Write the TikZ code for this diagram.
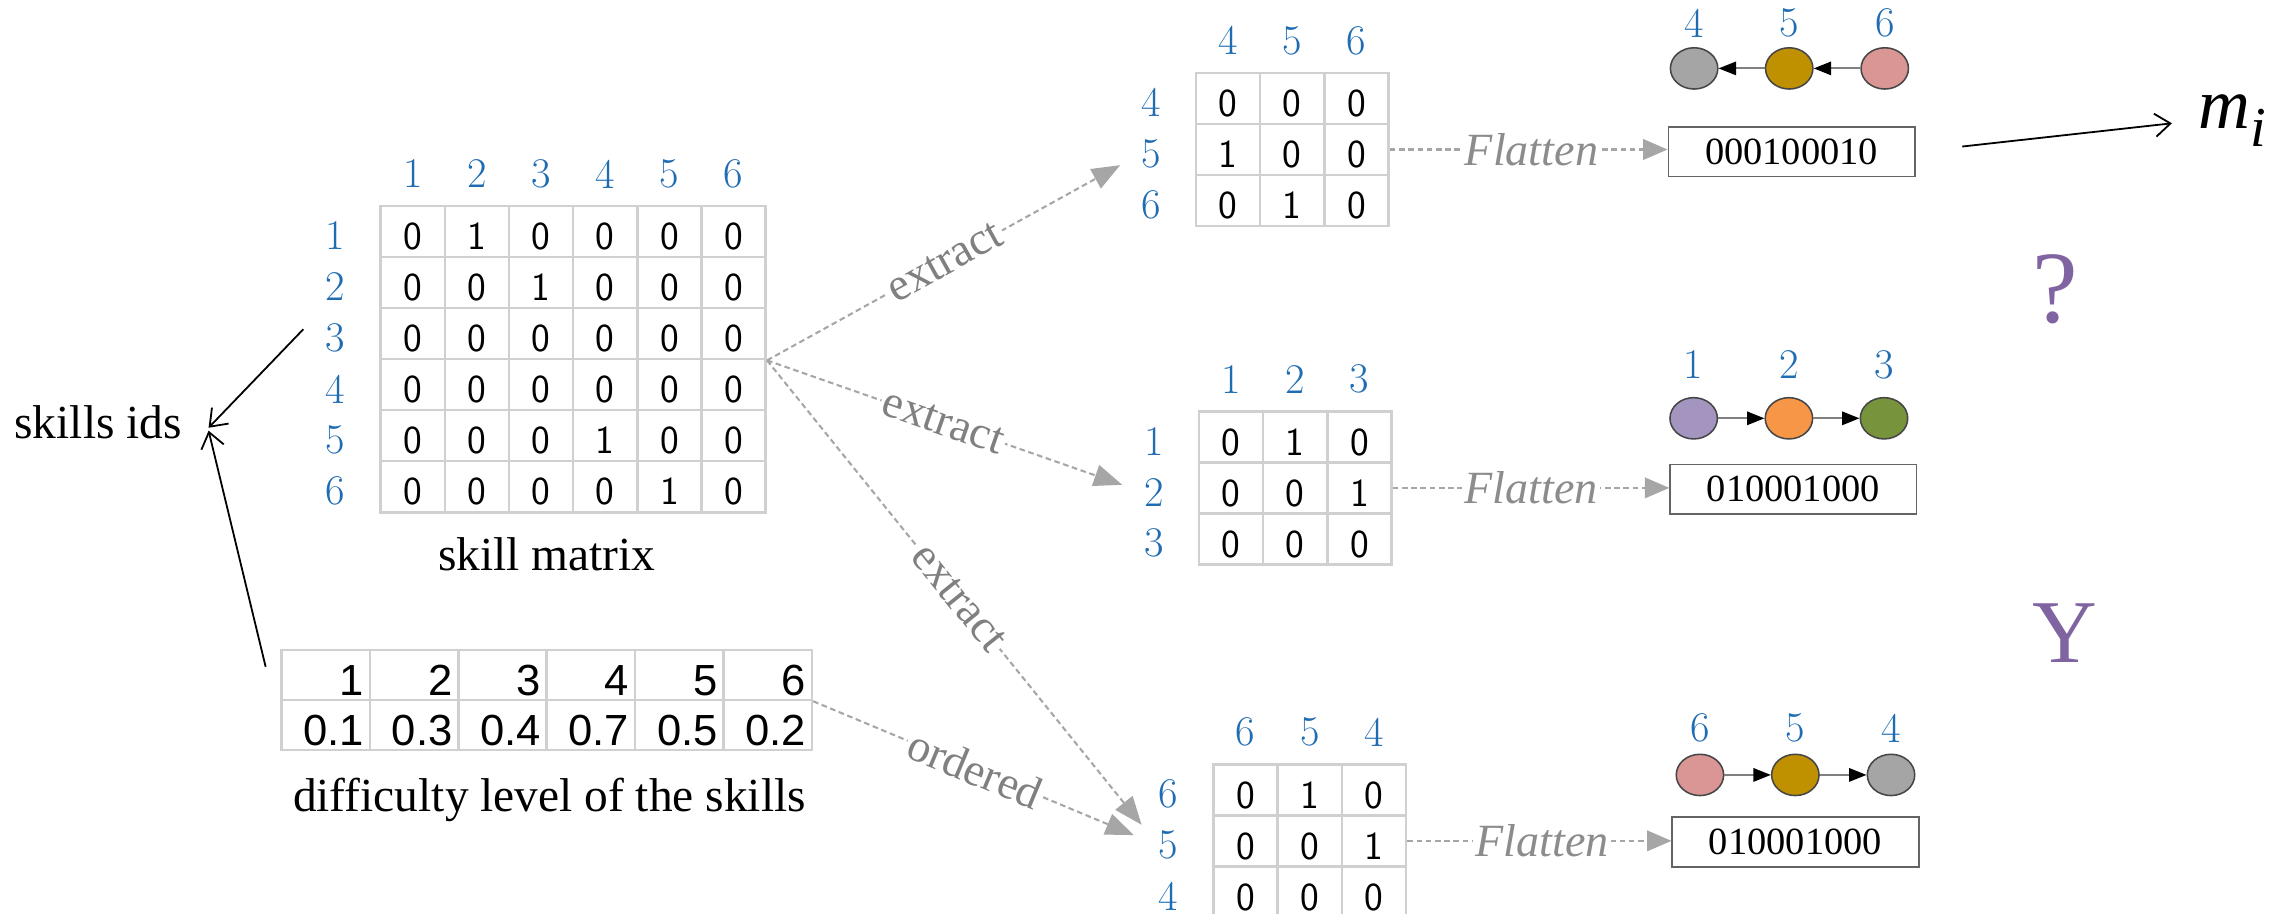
\documentclass[tikz,border=0pt]{standalone}
\usepackage{fontspec}
\usetikzlibrary{arrows.meta,shapes.geometric}
\newfontfamily\tms{Liberation Serif}
\newfontfamily\ars{Liberation Sans}

\definecolor{gridc}{RGB}{208,208,208}
\definecolor{idblue}{RGB}{31,108,178}
\definecolor{dotgray}{RGB}{166,166,166}
\definecolor{labgray}{RGB}{128,128,128}
\definecolor{flatgray}{RGB}{140,140,140}
\definecolor{qpurple}{RGB}{128,100,162}
\definecolor{ngray}{RGB}{165,165,165}
\definecolor{ngold}{RGB}{191,144,0}
\definecolor{npink}{RGB}{217,150,148}
\definecolor{nlav}{RGB}{164,148,192}
\definecolor{norange}{RGB}{247,150,70}
\definecolor{ngreen}{RGB}{119,147,60}
\definecolor{boxline}{RGB}{100,100,100}
\definecolor{nborder}{RGB}{70,70,70}
\definecolor{edgegray}{RGB}{128,128,128}

\tikzset{
  cell/.style={draw=gridc, line width=1pt, minimum width=8.8mm, minimum height=7mm,
    inner sep=0pt, font=\sffamily\fontsize{15.5}{15.5}\selectfont, text height=14.2pt, text depth=0pt},
  dcell/.style={draw=gridc, line width=1pt, text width=10.52mm, align=right,
    inner xsep=0.8mm, inner ysep=0pt, minimum height=6.86mm,
    font=\ars\fontsize{17}{17}\selectfont, text height=16.2pt, text depth=0pt},
  idlabel/.style={font=\rmfamily\fontsize{16.5}{16.5}\selectfont, text=idblue, inner sep=0pt},
  caption/.style={font=\tms\fontsize{18.5}{18.5}\selectfont, inner sep=0pt},
  dots/.style={draw=dotgray, line width=0.8pt, dash pattern=on 2.2pt off 1.4pt},
  grayhead/.style={-{Triangle[length=11pt,width=8.5pt,color=dotgray]}},
  flathead/.style={-{Triangle[length=9.5pt,width=8pt,color=dotgray]}},
  lab/.style={font=\tms\fontsize{18}{18}\selectfont, text=labgray, fill=white, inner sep=1pt, sloped},
  flat/.style={font=\tms\itshape\fontsize{18}{18}\selectfont, text=flatgray, fill=white, inner sep=1pt},
  bits/.style={draw=boxline, line width=0.6pt, minimum width=33.8mm, minimum height=6.8mm,
    inner sep=0pt, font=\tms\fontsize{15}{15}\selectfont},
  gnode/.style={ellipse, draw=nborder, line width=0.6pt, minimum width=6.5mm,
    minimum height=5.66mm, inner sep=0pt},
  gedge/.style={draw=edgegray, line width=0.8pt, -{Triangle[length=6.8pt,width=5.2pt,color=black]}},
  blk/.style={draw=black, line width=0.7pt, -{Straight Barb[length=6pt,width=9pt]}},
  qmark/.style={text=qpurple, inner sep=0pt}
}

% skill matrix with blue ids: name, left x, top y, column ids, row ids, rows of values
\newcommand\drawskmat[6]{%
  \foreach \rw [count=\ri] in {#6}{%
    \foreach \v [count=\ci] in \rw{%
      \node[cell] (#1-\ri-\ci) at ({#2+44*(\ci-0.5)},{#3+35*(\ri-0.5)}) {\v};
    }
  }
  \foreach \l [count=\ci] in {#4}{%
    \node[idlabel] (#1-col-\ci) at ({#2+44*(\ci-0.5)},{#3-22}) {\l};
  }
  \foreach \l [count=\ri] in {#5}{%
    \node[idlabel] (#1-row-\ri) at ({#2-31},{#3+35*(\ri-0.5)+3}) {\l};
  }
}

\begin{document}
\begin{tikzpicture}[x=0.2mm, y=-0.2mm]
  \fill[white] (0,0) rectangle (1568,626);
  \path[use as bounding box] (0,0) rectangle (1568,626);

  % full skill matrix
  \drawskmat{sm}{261}{141.2}{1,2,3,4,5,6}{1,2,3,4,5,6}%
    {{0,1,0,0,0,0},{0,0,1,0,0,0},{0,0,0,0,0,0},{0,0,0,0,0,0},{0,0,0,1,0,0},{0,0,0,0,1,0}}
  \node[caption, anchor=base] (smcap) at (375,391) {skill matrix};

  % difficulty table
  \foreach \v [count=\ci] in {1,2,3,4,5,6}{%
    \node[dcell] (dt-1-\ci) at ({193+60.6*(\ci-0.5)},{445.6+34.3*0.5}) {\v};
  }
  \foreach \v [count=\ci] in {0.1,0.3,0.4,0.7,0.5,0.2}{%
    \node[dcell] (dt-2-\ci) at ({193+60.6*(\ci-0.5)},{445.6+34.3*1.5}) {\v};
  }
  \node[caption, anchor=base] (dtcap) at (376.7,556.5) {difficulty level of the skills};

  % skills ids
  \node[caption, anchor=base] (ids) at (67.3,300.4) {skills ids};
  \draw[blk] ([shift={(-15,-6)}]sm-row-3.west) -- ([shift={(18,4)}]ids.east);
  \draw[blk] ([shift={(-10,12.4)}]dt-1-1.north west) -- ([shift={(18,6)}]ids.east);

  % extracted sub-matrices
  \drawskmat{ma}{820}{50}{4,5,6}{4,5,6}{{0,0,0},{1,0,0},{0,1,0}}
  \drawskmat{mb}{822}{282}{1,2,3}{1,2,3}{{0,1,0},{0,0,1},{0,0,0}}
  \drawskmat{mc}{832}{524}{6,5,4}{6,5,4}{{0,1,0},{0,0,1},{0,0,0}}

  % extract / ordered connectors
  \draw[dots, grayhead, shorten >=3.2mm] (sm-3-6.south east) -- (ma-row-2.west)
    node[lab, pos=0.476] {extract};
  \draw[dots, grayhead, shorten >=3.1mm] (sm-3-6.south east) -- (mb-row-2.west)
    node[lab, pos=0.468] {extract};
  \draw[dots, grayhead, shorten >=3.6mm] (sm-3-6.south east) -- (mc-row-2.west)
    node[lab, pos=0.49] {extract};
  \draw[dots, grayhead, shorten >=3.6mm] (dt-1-6.south east) -- (mc-row-2.west)
    node[lab, pos=0.47] {ordered};

  % flattened codes
  \node[bits] (ba) at (1228.3,104) {000100010};
  \node[bits] (bb) at (1229.5,335.5) {010001000};
  \node[bits] (bc) at (1231,577.3) {010001000};
  \draw[dots, flathead] (ma-2-3.east) -- (ma-2-3.east -| ba.west) node[flat, pos=0.51] {Flatten};
  \draw[dots, flathead] (mb-2-3.east) -- (mb-2-3.east -| bb.west) node[flat, pos=0.50] {Flatten};
  \draw[dots, flathead] (mc-2-3.east) -- (mc-2-3.east -| bc.west) node[flat, pos=0.51] {Flatten};

  % skill chains
  \node[gnode, fill=ngray] (ga-4) at (1161.5,46.9) {};
  \node[gnode, fill=ngold] (ga-5) at (1226.7,46.9) {};
  \node[gnode, fill=npink] (ga-6) at (1292.2,46.9) {};
  \node[idlabel] (la-4) at (1161.5,16) {4};
  \node[idlabel] (la-5) at (1226.7,16) {5};
  \node[idlabel] (la-6) at (1292.2,16) {6};
  \draw[gedge] (ga-5) -- (ga-4);
  \draw[gedge] (ga-6) -- (ga-5);

  \node[gnode, fill=nlav] (gb-1) at (1161.2,286.8) {};
  \node[gnode, fill=norange] (gb-2) at (1226.5,286.8) {};
  \node[gnode, fill=ngreen] (gb-3) at (1291.7,286.8) {};
  \node[idlabel] (lb-1) at (1161.2,250.2) {1};
  \node[idlabel] (lb-2) at (1226.5,250.2) {2};
  \node[idlabel] (lb-3) at (1291.7,250.2) {3};
  \draw[gedge] (gb-1) -- (gb-2);
  \draw[gedge] (gb-2) -- (gb-3);

  \node[gnode, fill=npink] (gc-6) at (1165.5,531.3) {};
  \node[gnode, fill=ngold] (gc-5) at (1230.9,531.3) {};
  \node[gnode, fill=ngray] (gc-4) at (1296.5,531.3) {};
  \node[idlabel] (lc-6) at (1165.5,499.3) {6};
  \node[idlabel] (lc-5) at (1230.9,499.3) {5};
  \node[idlabel] (lc-4) at (1296.5,499.3) {4};
  \draw[gedge] (gc-6) -- (gc-5);
  \draw[gedge] (gc-5) -- (gc-4);

  % output m_i
  \node[anchor=base west, inner sep=0pt, font=\tms\itshape\fontsize{28}{28}\selectfont] (mi) at (1507,88)
    {m\raisebox{-7pt}{\fontsize{22}{22}\selectfont i}};
  \draw[blk, shorten <=6.44mm, shorten >=3.6mm] (ba.east) -- (mi.west);

  % question mark and Y
  \node[qmark, font=\tms\fontsize{40}{40}\selectfont] (qm) at (1409,198) {?};
  \node[qmark, font=\tms\fontsize{35}{35}\selectfont] (yy) at (1416,434) {Y};
\end{tikzpicture}
\end{document}
